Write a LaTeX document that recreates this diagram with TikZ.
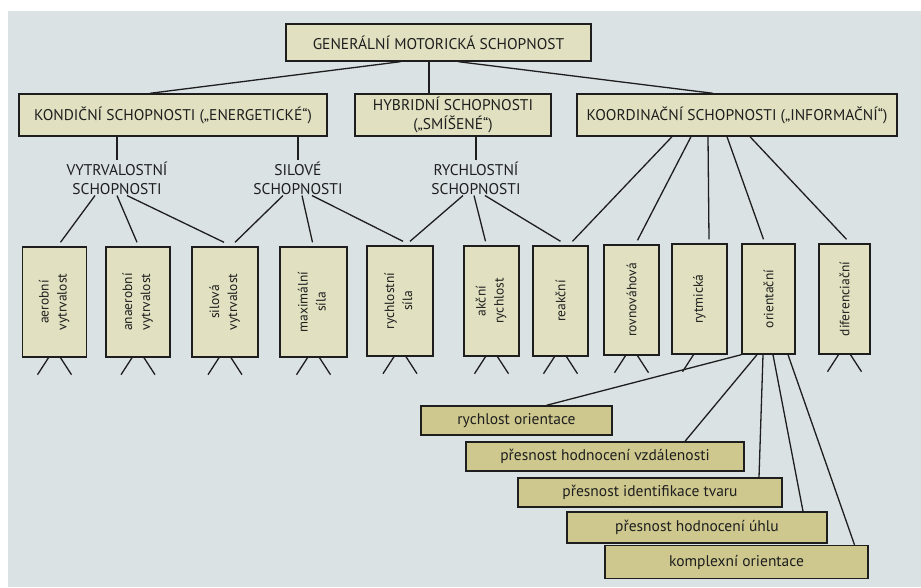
\documentclass[tikz,border=0pt]{standalone}
\usepackage{fontspec}
\setmainfont{PT Sans}
\usepackage{tikz}
\usetikzlibrary{shapes,arrows}
\definecolor{pagebg}{RGB}{219,226,228}
\definecolor{boxtop}{RGB}{225,224,192}
\definecolor{boxlow}{RGB}{206,200,142}
\definecolor{ink}{RGB}{30,30,30}
\tikzstyle{block} = [rectangle, draw=ink, line width=1.4pt, fill=boxtop, text=ink, align=center, inner sep=0pt, font=\fontsize{15.5}{19}\selectfont]
\tikzstyle{group} = [align=center, text=ink, inner sep=1pt, font=\fontsize{15.5}{19}\selectfont]
\tikzstyle{vbox} = [block, minimum width=64pt, minimum height=110pt, font=\fontsize{13.5}{16}\selectfont]
\tikzstyle{vboxn} = [vbox, minimum width=55pt]
\tikzstyle{sub} = [block, fill=boxlow, minimum height=29pt, font=\fontsize{15.5}{18}\selectfont]
\tikzstyle{line} = [draw=ink, line width=1.3pt]
\newcommand{\vlab}[2]{\rotatebox{90}{\begin{tabular}{@{}c@{}}#1\\[2pt]#2\end{tabular}}}
\newcommand{\vone}[1]{\rotatebox{90}{#1}}

\begin{document}
\begin{tikzpicture}[x=1pt, y=-1pt]
    % Page
    \useasboundingbox (0,0) rectangle (921,587);
    \fill[white] (0,0) rectangle (921,587);
    \fill[pagebg] (8,11) rectangle (921,587);
    % Place nodes
    \node [block, minimum width=305pt, minimum height=37pt] (gen) at (438.5,42.5) {GENERÁLNÍ MOTORICKÁ SCHOPNOST};
    \node [block, minimum width=308pt, minimum height=42pt] (kond) at (173,115) {KONDIČNÍ SCHOPNOSTI („ENERGETICKÉ“)};
    \node [block, minimum width=196pt, minimum height=42pt] (hyb) at (453,115) {HYBRIDNÍ SCHOPNOSTI\\(„SMÍŠENÉ“)};
    \node [block, minimum width=320pt, minimum height=42pt] (koord) at (737,115) {KOORDINAČNÍ SCHOPNOSTI („INFORMAČNÍ“)};
    \node [group] (vytr) at (117,178) {VYTRVALOSTNÍ\\SCHOPNOSTI};
    \node [group] (sil) at (298,178) {SILOVÉ\\SCHOPNOSTI};
    \node [group] (rych) at (476,178) {RYCHLOSTNÍ\\SCHOPNOSTI};
    \node [vbox] (aer) at (54.5,302) {\vlab{aerobní}{vytrvalost}};
    \node [vbox] (anaer) at (138,302) {\vlab{anaerobní}{vytrvalost}};
    \node [vbox, minimum width=66pt] (silvy) at (225,302) {\vlab{silová}{vytrvalost}};
    \node [vbox, minimum width=67pt] (maxs) at (313.5,302) {\vlab{maximální}{síla}};
    \node [vbox, minimum width=66pt] (rychs) at (400,301) {\vlab{rychlostní}{síla}};
    \node [vboxn] (akc) at (491.5,301) {\vlab{akční}{rychlost}};
    \node [vboxn] (reak) at (560.5,301) {\vone{reakční}};
    \node [vboxn] (rovn) at (631.5,300) {\vone{rovnováhová}};
    \node [vboxn] (rytm) at (699.5,299) {\vone{rytmická}};
    \node [vboxn, minimum width=53pt] (orient) at (768.5,299) {\vone{orientační}};
    \node [vboxn, minimum width=51pt] (dif) at (844.5,299) {\vone{diferenciační}};
    \node [sub, minimum width=191pt] (rorient) at (516.5,420.5) {rychlost orientace};
    \node [sub, minimum width=278pt] (vzdal) at (605,456.5) {přesnost hodnocení vzdálenosti};
    \node [sub, minimum width=264pt] (tvar) at (650,492.5) {přesnost identifikace tvaru};
    \node [sub, minimum width=260pt, minimum height=31pt] (uhel) at (697,527.5) {přesnost hodnocení úhlu};
    \node [sub, minimum width=263pt, minimum height=33pt] (kompl) at (736.5,562) {komplexní orientace};
    % Draw edges
    \path [line] ([xshift=-38pt]gen.south) -- ([xshift=-23pt]kond.north);
    \path [line] ([xshift=-9.5pt]gen.south) -- ([xshift=-24pt]hyb.north);
    \path [line] ([xshift=20pt]gen.south) -- ([xshift=-24pt]koord.north);
    \path [line] (vytr.north |- kond.south) -- (vytr.north);
    \path [line] (sil.north |- kond.south) -- (sil.north);
    \path [line] (rych.north |- hyb.south) -- (rych.north);
    \path [line] ([xshift=-22pt]vytr.south) -- ([xshift=6pt,yshift=4pt]aer.north);
    \path [line] (vytr.south) -- ([xshift=-1pt,yshift=4pt]anaer.north);
    \path [line] ([xshift=10pt]vytr.south) -- ([xshift=-1pt,yshift=4pt]silvy.north);
    \path [line] ([xshift=-15pt]sil.south) -- ([xshift=10pt,yshift=4pt]silvy.north);
    \path [line] ([xshift=4pt]sil.south) -- ([xshift=-1pt,yshift=4pt]maxs.north);
    \path [line] ([xshift=14pt]sil.south) -- ([xshift=3pt,yshift=4pt]rychs.north);
    \path [line] ([xshift=-13pt]rych.south) -- ([xshift=10pt,yshift=4pt]rychs.north);
    \path [line] ([xshift=-2pt]rych.south) -- ([xshift=-6pt,yshift=4pt]akc.north);
    \path [line] ([xshift=9pt]rych.south) -- ([yshift=4pt]reak.north);
    \path [line] ([xshift=-65pt]koord.south) -- ([xshift=12pt,yshift=4pt]reak.north);
    \path [line] ([xshift=-46pt]koord.south) -- ([xshift=6pt,yshift=4pt]rovn.north);
    \path [line] ([xshift=-29pt]koord.south) -- ([xshift=9.5pt,yshift=4pt]rytm.north);
    \path [line] ([xshift=-10pt]koord.south) -- ([xshift=-5pt,yshift=4pt]orient.north);
    \path [line] ([xshift=13pt]koord.south) -- ([xshift=2pt,yshift=4pt]dif.north);
    \path [line] (orient.south west) -- ([xshift=30pt]rorient.north);
    \path [line] ([xshift=-11.5pt]orient.south) -- ([xshift=80pt]vzdal.north);
    \path [line] ([xshift=-5.5pt]orient.south) -- ([xshift=109pt]tvar.north);
    \path [line] ([xshift=4.5pt]orient.south) -- ([xshift=106pt]uhel.north);
    \path [line] ([xshift=19.5pt]orient.south) -- ([xshift=118pt]kompl.north);
    % Open ends below the boxes
    \foreach \n in {aer,anaer,silvy,maxs,rychs,akc,reak,rovn,dif} {
        \path [line] ([xshift=-6pt]\n.south) -- ++(-11,17);
        \path [line] ([xshift=6pt]\n.south) -- ++(11,17);
    }
    \path [line] ([xshift=-6pt]rytm.south) -- ++(-11,17);
\end{tikzpicture}
\end{document}
